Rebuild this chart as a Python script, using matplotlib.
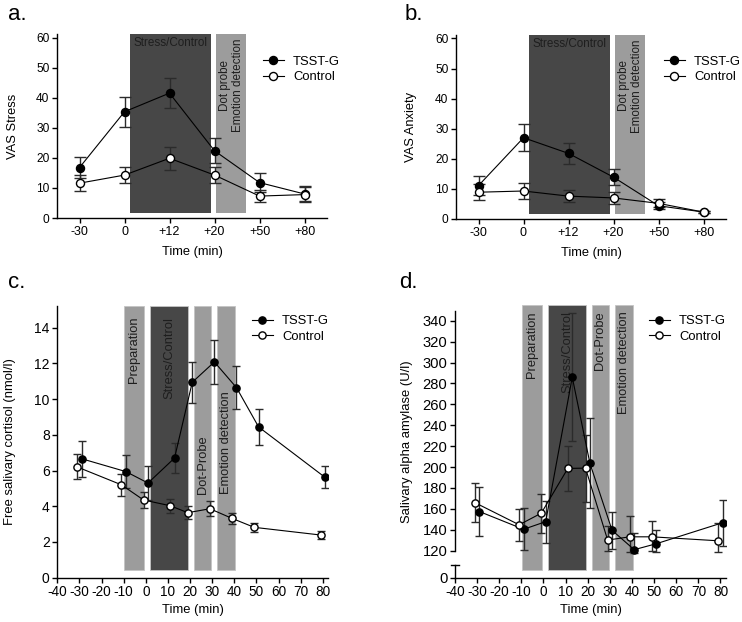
import numpy as np
from matplotlib import pyplot as plt

plt.rcParams['font.family'] = ['Liberation Sans', 'DejaVu Sans']
plt.rcParams['axes.unicode_minus'] = False

# ---- data ----
ab_labels = ['-30', '0', '+12', '+20', '+50', '+80']

a_tsst = [16.8, 35.4, 41.6, 22.4, 11.8, 8.0]
a_tsst_err = [3.5, 5.0, 5.0, 4.2, 3.2, 2.5]
a_ctrl = [11.6, 14.3, 19.9, 14.3, 7.3, 7.8]
a_ctrl_err = [2.7, 2.8, 3.9, 2.8, 1.9, 2.5]

b_tsst = [11.1, 27.0, 21.8, 13.9, 4.4, 2.3]
b_tsst_err = [3.2, 4.5, 3.6, 2.6, 1.2, 0.4]
b_ctrl = [8.9, 9.3, 7.6, 7.0, 5.2, 2.3]
b_ctrl_err = [2.6, 2.7, 1.9, 2.0, 1.3, 0.4]

t_tsst = [-29, -9, 1, 13, 21, 31, 41, 51, 81]
t_ctrl = [-31, -11, -1, 11, 19, 29, 39, 49, 79]

c_tsst = [6.66, 5.94, 5.30, 6.70, 10.94, 12.08, 10.64, 8.44, 5.62]
c_tsst_err = [1.0, 0.93, 0.95, 0.82, 1.15, 1.24, 1.2, 1.0, 0.62]
c_ctrl = [6.2, 5.2, 4.35, 4.03, 3.64, 3.86, 3.32, 2.82, 2.39]
c_ctrl_err = [0.7, 0.6, 0.45, 0.38, 0.35, 0.43, 0.33, 0.25, 0.2]

d_tsst = [157.5, 140.5, 147.8, 286.0, 203.5, 139.5, 121.0, 126.7, 146.8]
d_tsst_err = [23, 20, 20, 61, 43, 18, 16, 13, 22]
d_ctrl = [166.0, 144.8, 155.9, 198.7, 199.0, 130.2, 133.3, 133.3, 129.5]
d_ctrl_err = [18.5, 15.5, 18.7, 21.5, 32, 13, 20, 15, 17]

# phases: (start, end, label)
ab_phases = [(1.13, 2.92, 'Stress/Control'), (3.04, 3.70, 'Dot probe\nEmotion detection')]
cd_phases = [(-9.7, -0.6, 'Preparation'), (2.0, 19.2, 'Stress/Control'),
             (21.9, 29.5, 'Dot-Probe'), (32.3, 40.5, 'Emotion detection')]

DARK = '#474747'
LIGHT = '#9c9c9c'
W, H = 742, 622

fig = plt.figure(figsize=(W/100, H/100), dpi=100)

def px_axes(l, t, r, b):
    return fig.add_axes([l/W, 1-b/H, (r-l)/W, (b-t)/H])

def style(ax, xsize, ysize):
    for s in ['top', 'right']:
        ax.spines[s].set_visible(False)
    for s in ['left', 'bottom']:
        ax.spines[s].set_linewidth(1.0)
    ax.tick_params(direction='out', length=3.5, width=1.0, pad=2)
    ax.tick_params(axis='x', labelsize=xsize)
    ax.tick_params(axis='y', labelsize=ysize)

def series(ax, x, y, err, face, cap, ms, label):
    cont = ax.errorbar(x, y, yerr=err, fmt='-o', color='black', mfc=face, mec='black',
                       ms=ms, mew=1.0, lw=0.8, ecolor='#2b2b2b', elinewidth=1.0,
                       capsize=cap, capthick=1.0, zorder=3)
    line = cont.lines[0]
    line.set_label(label)
    return line

def legend(ax, handles, x, y):
    ax.legend(handles=handles, loc='center left', bbox_to_anchor=(x/W, 1-y/H),
              bbox_transform=fig.transFigure, frameon=False, fontsize=9.4,
              handlelength=1.6, handletextpad=0.7, labelspacing=0.25,
              borderpad=0, borderaxespad=0)

# ---- a & b ----
def panel_ab(ax, tsst, tsst_err, ctrl, ctrl_err, ylabel, lab_x):
    style(ax, 9, 8.6)
    ax.set_xlim(-0.5, 5.5)
    ax.set_ylim(0, 61.3)
    ymin = 1.5/61.3
    x0, x1, txt = ab_phases[0]
    ax.axvspan(x0, x1, ymin=ymin, ymax=1, color=DARK, lw=0, zorder=1)
    ax.text((x0+x1)/2, 60.3, txt, ha='center', va='top', fontsize=8.4, color='#1e1e1e', zorder=2)
    x0, x1, txt = ab_phases[1]
    ax.axvspan(x0, x1, ymin=ymin, ymax=1, color=LIGHT, lw=0, zorder=1)
    ax.text((x0+x1)/2, 59.8, txt, ha='center', va='top', rotation=90, fontsize=8.4,
            color='#1e1e1e', multialignment='center', linespacing=1.1, zorder=2)
    xs = np.arange(len(ab_labels))
    h1 = series(ax, xs, tsst, tsst_err, 'black', 4, 5.8, 'TSST-G')
    h2 = series(ax, xs, ctrl, ctrl_err, 'white', 4, 5.8, 'Control')
    ax.set_xticks(xs, ab_labels)
    ax.set_yticks(np.arange(0, 61, 10))
    ax.set_ylabel(ylabel, fontsize=9.3)
    ax.set_xlabel('Time (min)', fontsize=9.3)
    ax.yaxis.set_label_coords(lab_x, 0.5)
    ax.xaxis.set_label_coords(0.5, -0.152)
    return [h1, h2]

ax_a = px_axes(57, 34, 327, 218)
hs = panel_ab(ax_a, a_tsst, a_tsst_err, a_ctrl, a_ctrl_err, 'VAS Stress', -0.139)
legend(ax_a, hs, 263, 69.5)

ax_b = px_axes(456, 34.5, 726, 219)
hs = panel_ab(ax_b, b_tsst, b_tsst_err, b_ctrl, b_ctrl_err, 'VAS Anxiety', -0.144)
legend(ax_b, hs, 664, 69.5)

# ---- c & d ----
def phases_cd(ax, ymin, text_pos):
    for (x0, x1, txt), (yy, va) in zip(cd_phases, text_pos):
        col = DARK if txt == 'Stress/Control' else LIGHT
        ax.axvspan(x0, x1, ymin=ymin, ymax=1, facecolor=col, edgecolor='#c4c4c4', lw=0.6, zorder=1)
        ax.text((x0+x1)/2, yy, txt, ha='center', va=va, rotation=90, fontsize=9.3,
                color='#1e1e1e', zorder=2)

def panel_cd(ax, tsst, tsst_err, ctrl, ctrl_err, ylabel, ysize):
    style(ax, 9.8, ysize)
    ax.set_xlim(-40, 82.5)
    ax.set_xticks(np.arange(-40, 81, 10))
    h1 = series(ax, t_tsst, tsst, tsst_err, 'black', 3, 5.2, 'TSST-G')
    h2 = series(ax, t_ctrl, ctrl, ctrl_err, 'white', 3, 5.2, 'Control')
    ax.set_ylabel(ylabel, fontsize=9.4)
    ax.set_xlabel('Time (min)', fontsize=9.4)
    ax.yaxis.set_label_coords(-0.154, 0.5)
    ax.xaxis.set_label_coords(0.5, -0.097)
    return [h1, h2]

ax_c = px_axes(57.3, 306.2, 328.3, 577.7)
ax_c.set_ylim(0, 15.2)
ax_c.set_yticks(np.arange(0, 15, 2))
phases_cd(ax_c, 7.7/271.5, [(14.6, 'top'), (14.6, 'top'), (4.7, 'bottom'), (4.7, 'bottom')])
hs = panel_cd(ax_c, c_tsst, c_tsst_err, c_ctrl, c_ctrl_err, 'Free salivary cortisol (nmol/l)', 10)
legend(ax_c, hs, 252, 329)

# broken y axis for amylase: 0..12 kept, 12..120 squeezed
LOW, GAP = 12.0, 13.8
def fwd(y):
    y = np.asarray(y, dtype=float)
    return np.where(y <= LOW, y, np.where(y >= 120, y - 120 + LOW + GAP,
                                          LOW + (y - LOW) * GAP / (120 - LOW)))
def inv(t):
    t = np.asarray(t, dtype=float)
    return np.where(t <= LOW, t, np.where(t >= LOW + GAP, t - LOW - GAP + 120,
                                          LOW + (t - LOW) * (120 - LOW) / GAP))

ax_d = px_axes(455, 305, 726, 577.7)
ax_d.set_yscale('function', functions=(fwd, inv))
ax_d.set_ylim(0, 355)
ax_d.set_yticks([0] + list(range(120, 341, 20)))
phases_cd(ax_d, 7.7/272.7, [(349, 'top')] * 4)
hs = panel_cd(ax_d, d_tsst, d_tsst_err, d_ctrl, d_ctrl_err, 'Salivary alpha amylase (U/l)', 10.6)
ax_d.spines['left'].set_bounds(120, 349)
ax_d.plot([0, 0], [0, LOW], transform=ax_d.get_yaxis_transform(), color='black', lw=1.0, clip_on=False)
ax_d.plot([-0.014, 0.014], [LOW, LOW], transform=ax_d.get_yaxis_transform(), color='black', lw=1.0, clip_on=False)
legend(ax_d, hs, 649, 329)

# panel letters
for txt, x, y in [('a.', 8, 15), ('b.', 405, 15), ('c.', 8, 283), ('d.', 399, 283)]:
    fig.text(x/W, 1-y/H, txt, fontsize=16, ha='left', va='center')

fig.savefig('out.png', dpi=100)
